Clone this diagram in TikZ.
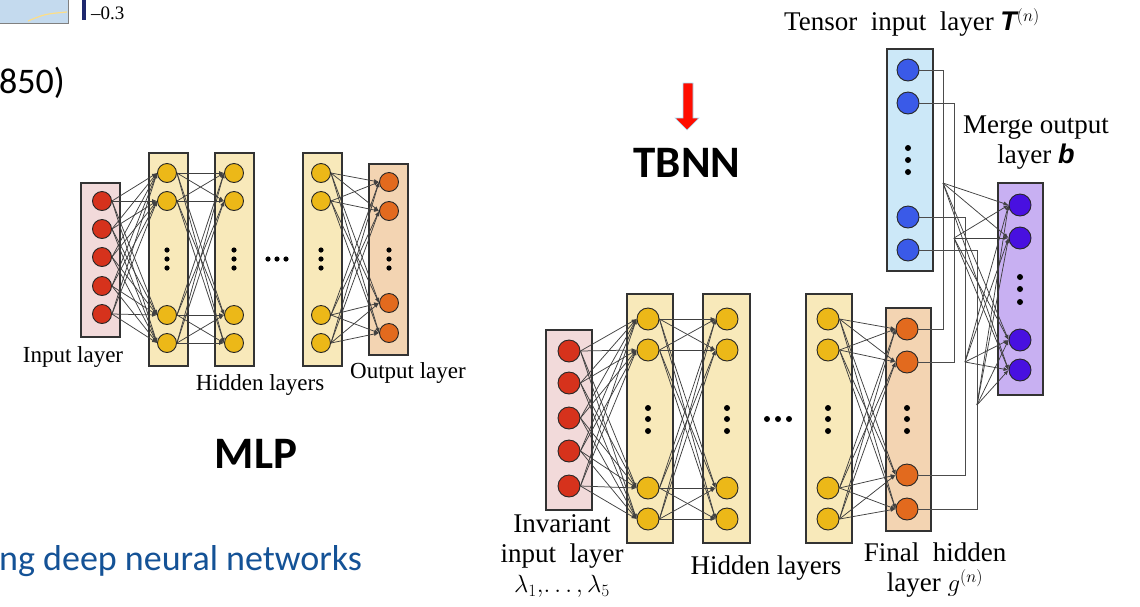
\documentclass[tikz,border=0pt]{standalone}
\usepackage{amsmath,amssymb}
\usepackage{fontspec}
\setmainfont{Liberation Serif}
\newfontfamily\calibri{Carlito}
\newfontfamily\helvet{Liberation Sans}
\usetikzlibrary{arrows.meta}
\usepackage{xcolor}

\definecolor{inpink}{RGB}{242,218,218}
\definecolor{inred}{RGB}{214,50,28}
\definecolor{hidfill}{RGB}{248,233,186}
\definecolor{hidnode}{RGB}{236,184,24}
\definecolor{outfill}{RGB}{243,212,178}
\definecolor{outnode}{RGB}{226,106,30}
\definecolor{tenfill}{RGB}{204,232,248}
\definecolor{tennode}{RGB}{58,90,232}
\definecolor{mrgfill}{RGB}{200,176,242}
\definecolor{mrgnode}{RGB}{72,16,224}
\definecolor{slideblue}{RGB}{20,82,150}
\definecolor{mapblue}{RGB}{196,218,238}
\definecolor{barnavy}{RGB}{30,40,110}

\tikzset{
  layerbox/.style={draw=black!80, line width=1.4pt},
  neuron/.style={circle, draw=black!85, line width=0.9pt, inner sep=0pt, minimum size=#1},
  wire/.style={draw=black!75, line width=0.75pt, -{Latex[length=5pt,width=4pt]}},
  route/.style={draw=black!70, line width=0.8pt},
  smlbl/.style={font=\fontsize{23}{28}\selectfont, align=center},
  lbl/.style={font=\fontsize{27}{30}\selectfont, align=center},
  slide/.style={font=\calibri\fontsize{36}{40}\selectfont, inner sep=0pt},
}

\begin{document}
\begin{tikzpicture}[x=1pt,y=-1pt]
\useasboundingbox (0,0) rectangle (1140,606);

% bit of the previous figure, top left
\draw [gray, fill=mapblue] (-2,-2) rectangle (68,23);
\draw [yellow!50!orange!45, line width=1.2pt] (28,21) .. controls (45,14) .. (67,12);
\fill [barnavy] (82,-2) rectangle (86,20);
\node [font=\fontsize{19}{21}\selectfont, anchor=base west, inner sep=0pt] (cbar) at (91,19) {--0.3};
\node [slide, anchor=base west] (year) at (-1,93) {850)};
\node [slide, anchor=base west, text=slideblue] (caption) at (-1,570) {ng deep neural networks};

% ---- MLP ----
\draw [layerbox, fill=inpink] (81,183) rectangle (120,337);
\draw [layerbox, fill=hidfill] (149,153) rectangle (188,366);
\draw [layerbox, fill=hidfill] (215,153) rectangle (254,366);
\draw [layerbox, fill=hidfill] (303,153) rectangle (342,366);
\draw [layerbox, fill=outfill] (369,164) rectangle (408,355);

\foreach \n/\y in {1/201,2/229,3/257,4/286,5/314}
  \node [neuron=19pt, fill=inred] (mi\n) at (102,\y) {};
\foreach \n/\y in {1/173,2/201,3/315,4/343} {
  \node [neuron=19pt, fill=hidnode] (ma\n) at (167,\y) {};
  \node [neuron=19pt, fill=hidnode] (mb\n) at (234,\y) {};
  \node [neuron=19pt, fill=hidnode] (mc\n) at (321,\y) {};
}
\foreach \n/\y in {1/182,2/211,3/303,4/333}
  \node [neuron=19pt, fill=outnode] (mo\n) at (389,\y) {};

\foreach \x in {167,234,321,389}
  \foreach \y in {250,259,268} \fill (\x,\y) circle (2.6pt);
\foreach \x in {268,277,286} \fill (\x,259) circle (2.6pt);

\foreach \s in {1,...,5}
  \foreach \t in {1,...,4} \draw [wire] (mi\s.east) -- (ma\t.west);
\foreach \a/\b in {ma/mb,mc/mo}
  \foreach \s in {1,...,4}
    \foreach \t in {1,...,4} \draw [wire] (\a\s.east) -- (\b\t.west);

\node [smlbl] (minlbl) at (73,357) {Input layer};
\node [smlbl] (mhidlbl) at (260,385) {Hidden layers};
\node [smlbl] (moutlbl) at (408,373) {Output layer};
\node [font=\calibri\bfseries\fontsize{45}{50}\selectfont, anchor=base] (mlp) at (256,468) {MLP};

% ---- TBNN ----
\draw [fill=red!90!orange, draw=cyan!35, line width=0.6pt]
  (683,83) -- (693,83) -- (693,118) -- (699,118) -- (687,130) -- (675,118) -- (683,118) -- cycle;
\node [font=\calibri\bfseries\fontsize{45}{50}\selectfont, anchor=base] (tbnn) at (687,177) {TBNN};

\draw [layerbox, fill=inpink] (546,330) rectangle (592,510);
\draw [layerbox, fill=hidfill] (627,294) rectangle (673,543);
\draw [layerbox, fill=hidfill] (703,294) rectangle (750,543);
\draw [layerbox, fill=hidfill] (806,294) rectangle (852,543);
\draw [layerbox, fill=outfill] (886,308) rectangle (931,531);
\draw [layerbox, fill=tenfill] (887,49) rectangle (933,271);
\draw [layerbox, fill=mrgfill] (998,183) rectangle (1043,395);

\foreach \n/\y in {1/351,2/383,3/418,4/451,5/486}
  \node [neuron=22pt, fill=inred] (ti\n) at (569,\y) {};
\foreach \n/\y in {1/319,2/350,3/488,4/519} {
  \node [neuron=22pt, fill=hidnode] (ta\n) at (648,\y) {};
  \node [neuron=22pt, fill=hidnode] (tb\n) at (727,\y) {};
  \node [neuron=22pt, fill=hidnode] (tc\n) at (828,\y) {};
}
\foreach \n/\y in {1/329,2/362,3/475,4/509}
  \node [neuron=22pt, fill=outnode] (tg\n) at (907,\y) {};
\foreach \n/\y in {1/70,2/103,3/217,4/250}
  \node [neuron=22pt, fill=tennode] (tt\n) at (908,\y) {};
\foreach \n/\y in {1/205,2/238,3/340,4/370}
  \node [neuron=22pt, fill=mrgnode] (tm\n) at (1020,\y) {};

\foreach \x in {648,727,828,907}
  \foreach \y in {408,419,431} \fill (\x,\y) circle (3pt);
\foreach \y in {148,160,172} \fill (908,\y) circle (3pt);
\foreach \y in {277,289,302} \fill (1020,\y) circle (3pt);
\foreach \x in {767,778,789} \fill (\x,419) circle (3pt);

\foreach \s in {1,...,5}
  \foreach \t in {1,...,4} \draw [wire] (ti\s.east) -- (ta\t.west);
\foreach \a/\b in {ta/tb,tc/tg}
  \foreach \s in {1,...,4}
    \foreach \t in {1,...,4} \draw [wire] (\a\s.east) -- (\b\t.west);

% T and g meet, then fan out to b
\coordinate (k1) at (943,183);
\coordinate (k2) at (954,238);
\coordinate (k3) at (965,362);
\coordinate (k4) at (977,405);
\foreach \i in {1,...,4} {
  \draw [route] (tt\i.east) -| (k\i) |- (tg\i.east);
  \foreach \t in {1,...,4} \draw [wire] (k\i) -- (tm\t.west);
}

\node [lbl] (tenlbl) at (912,22) {Tensor\ \ input\ \ layer\ {\helvet\bfseries\itshape T}$^{(n)}$};
\node [lbl] (mrglbl) at (1036,143) {Merge output\\layer {\helvet\bfseries\itshape b}};
\node [lbl] (invlbl) at (562,556) {Invariant\\input\ \ layer\\$\lambda_1,\!\ldots,\lambda_5$};
\node [lbl] (thidlbl) at (766,568) {Hidden layers};
\node [lbl] (finlbl) at (935,570) {Final\ \ hidden\\layer $g^{(n)}$};
\end{tikzpicture}
\end{document}
